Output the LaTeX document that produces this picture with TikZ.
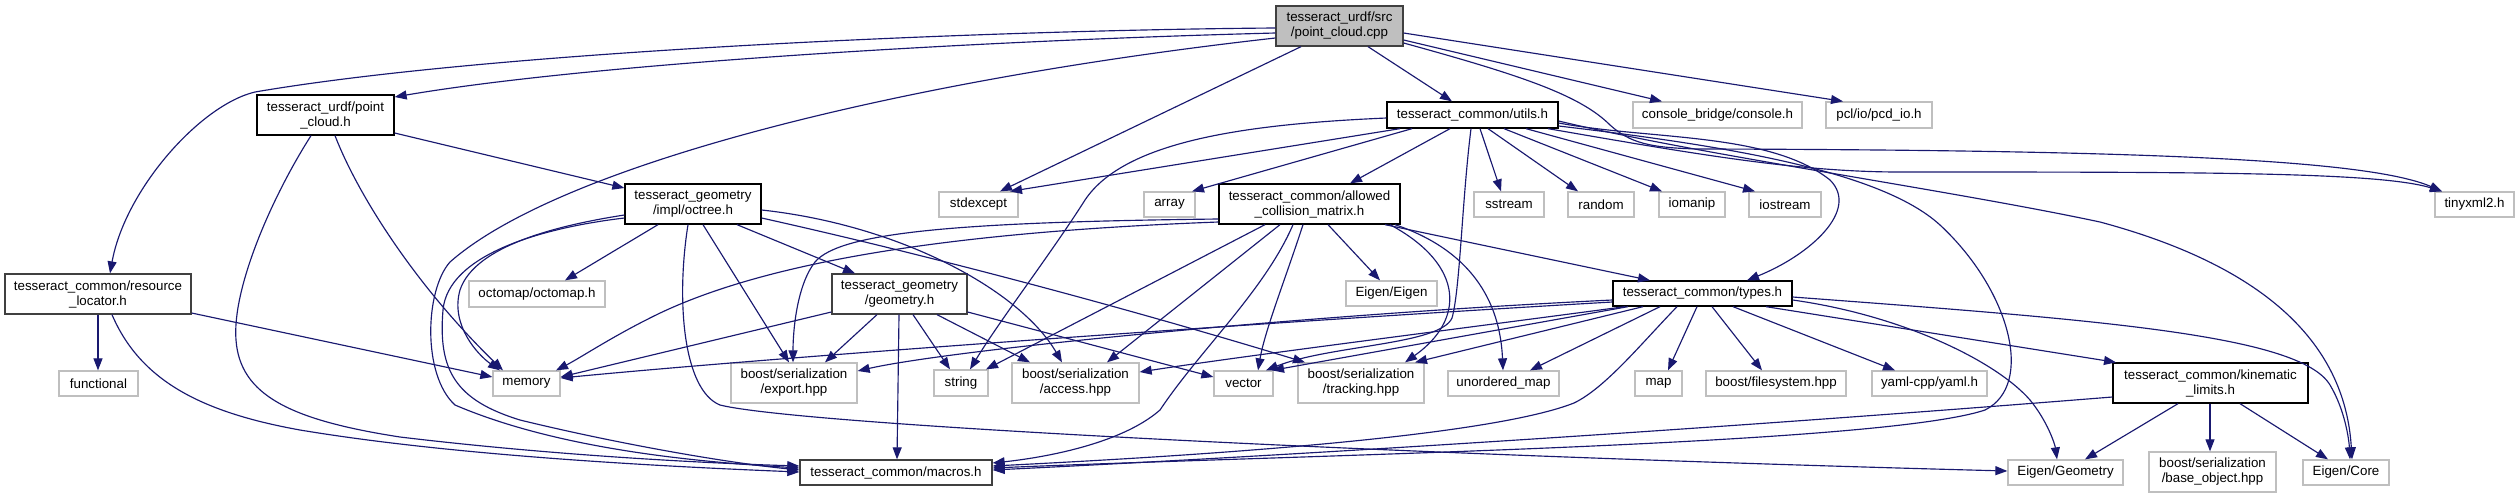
\documentclass[tikz,border=0pt]{standalone}
\usepackage{fontspec}
\setmainfont{Liberation Sans}
\usetikzlibrary{arrows.meta}
\definecolor{edgec}{HTML}{191970}
\definecolor{gL}{HTML}{BFBFBF}
\definecolor{gD}{HTML}{404040}
\tikzset{
 nd/.style={rectangle, inner sep=0pt, align=center, font=\fontsize{13.33pt}{15pt}\selectfont, fill=white, text=black},
 blk/.style={nd, draw=black, line width=1.3pt},
 dkg/.style={nd, draw=gD, line width=1.3pt},
 ext/.style={nd, draw=gL, line width=1.3pt},
 rootn/.style={nd, draw=gD, fill=gL, line width=1.3pt},
 e/.style={draw=edgec, line width=1.15pt, -{Triangle[length=12pt,width=9pt]}},
 sz/.style 2 args={minimum width=#1pt, minimum height=#2pt},
}
\begin{document}
\begin{tikzpicture}[x=1pt,y=-1pt]
\fill[white] (0,0) rectangle (2515,499);
\useasboundingbox (0,0) rectangle (2515,499);
% nodes
\node[rootn,sz={127}{40}] (root) at (1339.5,26) {tesseract\_urdf/src\\/point\_cloud.cpp};
\node[blk,sz={137}{40}] (pch) at (325.5,115) {tesseract\_urdf/point\\\_cloud.h};
\node[blk,sz={171}{26}] (utils) at (1472.5,115) {tesseract\_common/utils.h};
\node[ext,sz={169}{26}] (console) at (1717.5,115) {console\_bridge/console.h};
\node[ext,sz={106}{26}] (pcd) at (1879,115) {pcl/io/pcd\_io.h};
\node[ext,sz={79}{25}] (stdexc) at (978.5,204.5) {stdexcept};
\node[ext,sz={51}{25}] (array) at (1169.5,204.5) {array};
\node[blk,sz={181}{40}] (acm) at (1309.5,204) {tesseract\_common/allowed\\\_collision\_matrix.h};
\node[blk,sz={136}{40}] (octree) at (693,204) {tesseract\_geometry\\/impl/octree.h};
\node[ext,sz={70}{25}] (sstream) at (1509,204.5) {sstream};
\node[ext,sz={66}{25}] (random) at (1601,204.5) {random};
\node[ext,sz={66}{25}] (iomanip) at (1692,204.5) {iomanip};
\node[ext,sz={72}{25}] (iostream) at (1785,204.5) {iostream};
\node[ext,sz={79}{25}] (tinyxml) at (2474.5,204.5) {tinyxml2.h};
\node[dkg,sz={186}{40}] (rl) at (98,294) {tesseract\_common/resource\\\_locator.h};
\node[ext,sz={136}{26}] (octomap) at (537,294) {octomap/octomap.h};
\node[dkg,sz={135}{40}] (geom) at (899.5,294) {tesseract\_geometry\\/geometry.h};
\node[ext,sz={91}{25}] (eigen) at (1391.5,293.5) {Eigen/Eigen};
\node[blk,sz={179}{25}] (types) at (1702.5,293.5) {tesseract\_common/types.h};
\node[ext,sz={79}{25}] (functional) at (98.5,383.5) {functional};
\node[ext,sz={67}{25}] (memory) at (526.5,383.5) {memory};
\node[ext,sz={126}{40}] (export) at (794,383) {boost/serialization\\/export.hpp};
\node[ext,sz={54}{26}] (string) at (961,383) {string};
\node[ext,sz={127}{40}] (access) at (1075.5,383) {boost/serialization\\/access.hpp};
\node[ext,sz={59}{25}] (vector) at (1243.5,383.5) {vector};
\node[ext,sz={126}{40}] (tracking) at (1361,383) {boost/serialization\\/tracking.hpp};
\node[ext,sz={111}{25}] (umap) at (1503.5,383.5) {unordered\_map};
\node[ext,sz={47}{25}] (map) at (1658.5,383.5) {map};
\node[ext,sz={140}{25}] (fs) at (1776,383.5) {boost/filesystem.hpp};
\node[ext,sz={115}{25}] (yaml) at (1929.5,383.5) {yaml-cpp/yaml.h};
\node[blk,sz={195}{40}] (kin) at (2210.5,383) {tesseract\_common/kinematic\\\_limits.h};
\node[dkg,sz={192}{25}] (macros) at (896,472.5) {tesseract\_common/macros.h};
\node[ext,sz={115}{25}] (egeom) at (2065.5,472.5) {Eigen/Geometry};
\node[ext,sz={127}{40}] (base) at (2212.5,472) {boost/serialization\\/base\_object.hpp};
\node[ext,sz={86}{25}] (ecore) at (2346,472.5) {Eigen/Core};
% root edges
\draw[e] (root.west|-0,33) .. controls (1000,40) and (600,62) .. (pch.east|-0,97);
\draw[e] (root.west|-0,28) .. controls (1000,30) and (500,50) .. (255,92) .. controls (200,105) and (125,190) .. (rl.north-|110,0);
\draw[e] (root.west|-0,38) .. controls (900,80) and (560,165) .. (450,262) .. controls (425,290) and (422,375) .. (455,405) .. controls (560,450) and (700,462) .. (macros.west|-0,468);
\draw[e] (root.south-|1301,0) -- (stdexc.north-|1000,0);
\draw[e] (root.south-|1368,0) -- (utils.north-|1452,0);
\draw[e] (root.east|-0,40) -- (console.north-|1662,0);
\draw[e] (root.east|-0,33) -- (pcd.north-|1843,0);
\draw[e] (root.east|-0,43) .. controls (1520,75) and (1580,95) .. (1610,125) .. controls (1630,143) and (1650,148) .. (1700,149) .. controls (2150,150) and (2370,160) .. (tinyxml.north-|2442,0);
% utils edges
\draw[e] (utils.south-|1400,0) -- (stdexc.north-|1010,0);
\draw[e] (utils.west|-0,118) .. controls (1250,124) and (1125,140) .. (1085,200) .. controls (1050,255) and (1000,320) .. (string.north-|970,0);
\draw[e] (utils.south-|1412,0) -- (array.north-|1192,0);
\draw[e] (utils.south-|1450,0) -- (acm.north-|1350,0);
\draw[e] (utils.south-|1471,0) .. controls (1462,200) and (1460,290) .. (1452,318) .. controls (1440,345) and (1330,345) .. (vector.north-|1266,0);
\draw[e] (utils.south-|1480,0) -- (sstream.north-|1501,0);
\draw[e] (utils.south-|1488,0) -- (random.north-|1578,0);
\draw[e] (utils.south-|1504,0) -- (iomanip.north-|1662,0);
\draw[e] (utils.south-|1526,0) -- (iostream.north-|1755,0);
\draw[e] (utils.south-|1548,0) .. controls (1700,155) and (1800,172) .. (1900,172) .. controls (2200,172) and (2380,172) .. (tinyxml.north-|2442,0);
\draw[e] (utils.east|-0,123) .. controls (1650,140) and (1770,132) .. (1830,180) .. controls (1860,210) and (1810,255) .. (types.north-|1747,0);
\draw[e] (utils.east|-0,126) .. controls (1720,145) and (1880,170) .. (1940,225) .. controls (2010,290) and (2035,385) .. (1985,410) .. controls (1880,445) and (1300,455) .. (macros.east|-0,468);
\draw[e] (utils.east|-0,121) .. controls (1700,155) and (1950,190) .. (2100,222) .. controls (2260,265) and (2345,340) .. (ecore.north-|2352,0);
% allowed collision matrix edges
\draw[e] (acm.south-|1385,0) -- (types.north-|1650,0);
\draw[e] (acm.south-|1328,0) -- (eigen.north-|1380,0);
\draw[e] (acm.south-|1390,0) .. controls (1465,265) and (1465,320) .. (tracking.north-|1405,0);
\draw[e] (acm.south-|1395,0) .. controls (1470,250) and (1500,300) .. (umap.north-|1503,0);
\draw[e] (acm.south-|1303,0) .. controls (1285,280) and (1265,330) .. (vector.north-|1258,0);
\draw[e] (acm.south-|1293,0) .. controls (1265,290) and (1200,350) .. (1160,410) .. controls (1120,445) and (1040,458) .. (macros.east|-0,463);
\draw[e] (acm.south-|1280,0) -- (access.north-|1107,0);
\draw[e] (acm.south-|1265,0) -- (string.north-|986,0);
\draw[e] (acm.west|-0,222) .. controls (950,232) and (760,262) .. (650,318) .. controls (610,338) and (580,358) .. (memory.north-|556,0);
\draw[e] (acm.west|-0,219) .. controls (960,222) and (840,232) .. (815,262) .. controls (797,285) and (793,330) .. (export.north-|793,0);
% types edges
\draw[e] (types.west|-0,302) .. controls (1300,320) and (800,355) .. (memory.east|-0,378);
\draw[e] (types.west|-0,300) .. controls (1300,315) and (950,350) .. (export.east|-0,371);
\draw[e] (types.south-|1625,0) .. controls (1450,330) and (1250,355) .. (access.east|-0,372);
\draw[e] (types.south-|1628,0) -- (vector.north-|1272,0);
\draw[e] (types.south-|1643,0) -- (tracking.north-|1415,0);
\draw[e] (types.south-|1660,0) -- (umap.north-|1530,0);
\draw[e] (types.south-|1697,0) -- (map.north-|1668,0);
\draw[e] (types.south-|1712,0) -- (fs.north-|1762,0);
\draw[e] (types.south-|1733,0) -- (yaml.north-|1895,0);
\draw[e] (types.south-|1766,0) -- (kin.north-|2116,0);
\draw[e] (types.south-|1677,0) .. controls (1640,345) and (1605,388) .. (1574,403) .. controls (1480,440) and (1150,458) .. (macros.east|-0,466);
\draw[e] (types.east|-0,297) .. controls (2100,320) and (2300,335) .. (2330,385) .. controls (2345,410) and (2349,440) .. (ecore.north-|2350,0);
\draw[e] (types.east|-0,300) .. controls (1900,315) and (1995,360) .. (2030,400) .. controls (2048,422) and (2055,445) .. (egeom.north-|2057,0);
% kinematic limits edges
\draw[e] (kin.west|-0,397) .. controls (1700,430) and (1300,455) .. (macros.east|-0,470);
\draw[e] (kin.south-|2178,0) -- (egeom.north-|2085,0);
\draw[e] (kin.south-|2210,0) -- (base.north-|2210,0);
\draw[e] (kin.south-|2240,0) -- (ecore.north-|2328,0);
% octree edges
\draw[e] (octree.south-|658,0) -- (octomap.north-|565,0);
\draw[e] (octree.south-|703,0) -- (export.north-|789,0);
\draw[e] (octree.south-|737,0) -- (geom.north-|855,0);
\draw[e] (octree.east|-0,210) .. controls (900,225) and (1020,290) .. (access.north-|1062,0);
\draw[e] (octree.east|-0,218) .. controls (950,260) and (1150,315) .. (tracking.north-|1305,0);
\draw[e] (octree.south-|688,0) .. controls (676,300) and (683,390) .. (720,405) .. controls (800,425) and (1400,455) .. (egeom.west|-0,471);
\draw[e] (octree.west|-0,215) .. controls (560,225) and (475,245) .. (460,290) .. controls (450,325) and (478,355) .. (memory.north-|500,0);
\draw[e] (octree.west|-0,218) .. controls (540,228) and (448,255) .. (443,310) .. controls (438,370) and (455,400) .. (520,420) .. controls (610,442) and (720,462) .. (macros.west|-0,470);
% point_cloud.h edges
\draw[e] (pch.east|-0,133) -- (octree.west|-0,188);
\draw[e] (pch.south-|311,0) .. controls (270,200) and (232,290) .. (236,340) .. controls (240,395) and (290,420) .. (400,437) .. controls (550,455) and (700,463) .. (macros.west|-0,466);
\draw[e] (pch.south-|335,0) .. controls (360,200) and (420,290) .. (memory.north-|503,0);
% resource locator edges
\draw[e] (rl.south-|98,0) -- (functional.north-|98,0);
\draw[e] (rl.east|-0,313) -- (memory.west|-0,377);
\draw[e] (rl.south-|112,0) .. controls (140,380) and (200,412) .. (300,430) .. controls (450,455) and (650,466) .. (macros.west|-0,472);
% geometry edges
\draw[e] (geom.west|-0,312) -- (memory.east|-0,377);
\draw[e] (geom.south-|877,0) -- (export.north-|825,0);
\draw[e] (geom.south-|913,0) -- (string.north-|950,0);
\draw[e] (geom.south-|937,0) -- (access.north-|1030,0);
\draw[e] (geom.east|-0,312) -- (vector.west|-0,377);
\draw[e] (geom.south-|899,0) -- (macros.north-|897,0);
\end{tikzpicture}
\end{document}
